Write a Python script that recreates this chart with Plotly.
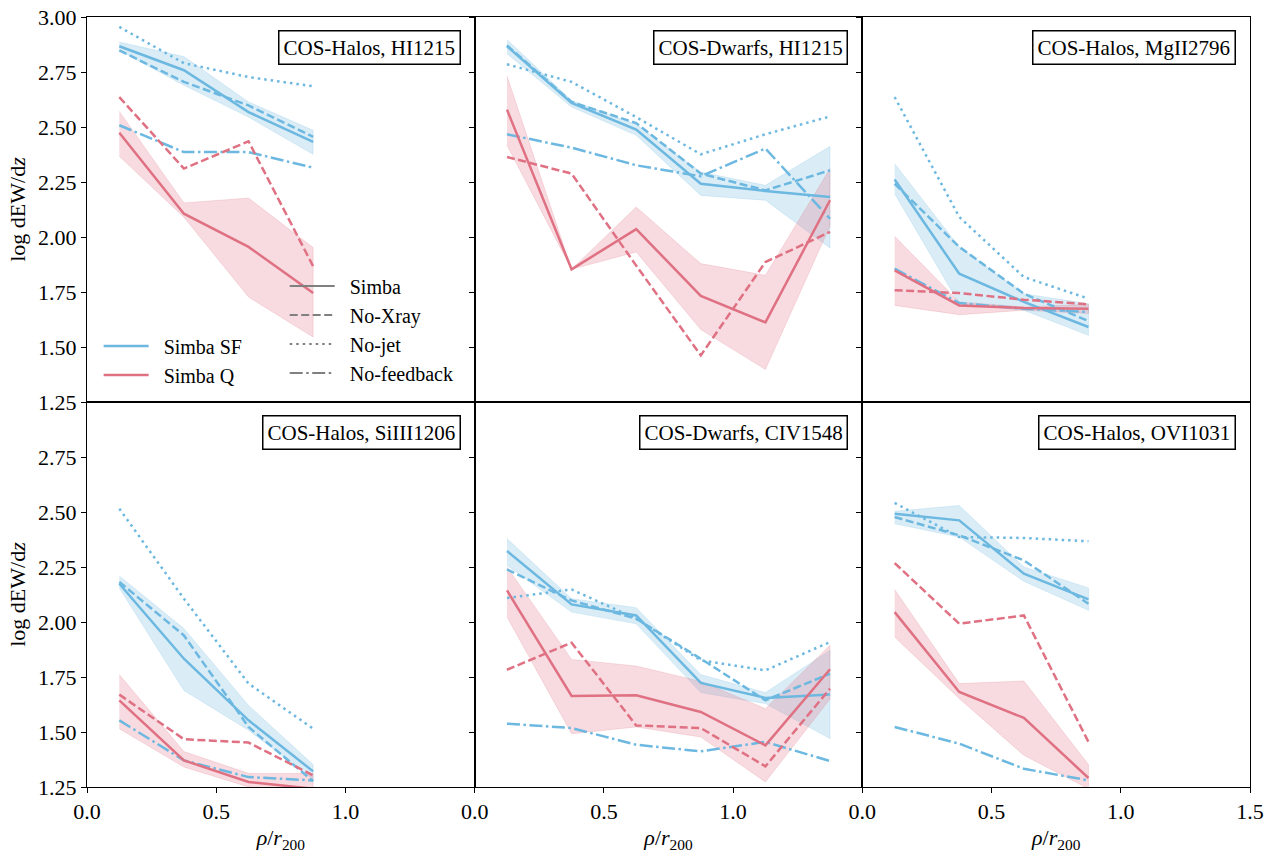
import plotly.graph_objects as go
from plotly.subplots import make_subplots

# ---------------- data ----------------
X4 = [0.125, 0.375, 0.625, 0.875]
X6 = [0.125, 0.375, 0.625, 0.875, 1.125, 1.375]

titles = ["COS-Halos, HI1215", "COS-Dwarfs, HI1215", "COS-Halos, MgII2796",
          "COS-Halos, SiIII1206", "COS-Dwarfs, CIV1548", "COS-Halos, OVI1031"]

# Panel 1: COS-Halos HI1215
p1_sf = [2.867, 2.758, 2.568, 2.432]
p1_sf_hi = [2.886, 2.820, 2.614, 2.485]
p1_sf_lo = [2.848, 2.690, 2.545, 2.376]
p1_sf_nox = [2.848, 2.705, 2.598, 2.455]
p1_sf_nojet = [2.955, 2.790, 2.727, 2.685]
p1_sf_nofb = [2.508, 2.386, 2.386, 2.315]
p1_q = [2.474, 2.106, 1.955, 1.745]
p1_q_hi = [2.571, 2.155, 2.177, 1.952]
p1_q_lo = [2.367, 2.090, 1.727, 1.545]
p1_q_nox = [2.636, 2.311, 2.435, 1.867]

# Panel 2: COS-Dwarfs HI1215
p2_sf = [2.867, 2.609, 2.488, 2.242, 2.209, 2.182]
p2_sf_hi = [2.897, 2.621, 2.512, 2.295, 2.235, 2.412]
p2_sf_lo = [2.833, 2.591, 2.462, 2.189, 2.167, 1.950]
p2_sf_nox = [2.871, 2.614, 2.518, 2.288, 2.212, 2.303]
p2_sf_nojet = [2.785, 2.705, 2.545, 2.376, 2.467, 2.548]
p2_sf_nofb = [2.467, 2.406, 2.326, 2.276, 2.402, 2.083]
p2_q = [2.579, 1.853, 2.036, 1.732, 1.612, 2.167]
p2_q_hi = [2.732, 1.853, 2.136, 1.879, 1.826, 2.311]
p2_q_lo = [2.417, 1.853, 1.932, 1.579, 1.398, 2.050]
p2_q_nox = [2.364, 2.288, 1.870, 1.462, 1.886, 2.023]

# Panel 3: COS-Halos MgII2796
p3_sf = [2.261, 1.833, 1.705, 1.591]
p3_sf_hi = [2.333, 1.955, 1.742, 1.697]
p3_sf_lo = [2.197, 1.697, 1.667, 1.553]
p3_sf_nox = [2.242, 1.955, 1.742, 1.618]
p3_sf_nojet = [2.636, 2.091, 1.818, 1.720]
p3_sf_nofb = [1.856, 1.700, 1.674, 1.659]
p3_q = [1.848, 1.689, 1.677, 1.674]
p3_q_hi = [2.003, 1.705, 1.682, 1.694]
p3_q_lo = [1.689, 1.647, 1.667, 1.652]
p3_q_nox = [1.758, 1.745, 1.715, 1.694]

# Panel 4: COS-Halos SiIII1206
p4_sf = [2.174, 1.833, 1.553, 1.321]
p4_sf_hi = [2.209, 1.970, 1.621, 1.352]
p4_sf_lo = [2.155, 1.689, 1.508, 1.285]
p4_sf_nox = [2.182, 1.939, 1.523, 1.276]
p4_sf_nojet = [2.515, 2.106, 1.720, 1.515]
p4_sf_nofb = [1.553, 1.371, 1.295, 1.280]
p4_q = [1.644, 1.371, 1.273, 1.242]
p4_q_hi = [1.761, 1.411, 1.312, 1.311]
p4_q_lo = [1.515, 1.341, 1.250, 1.227]
p4_q_nox = [1.670, 1.467, 1.452, 1.303]

# Panel 5: COS-Dwarfs CIV1548
p5_sf = [2.323, 2.080, 2.030, 1.723, 1.655, 1.671]
p5_sf_hi = [2.379, 2.106, 2.065, 1.761, 1.679, 1.871]
p5_sf_lo = [2.258, 2.045, 1.992, 1.679, 1.629, 1.470]
p5_sf_nox = [2.239, 2.098, 2.015, 1.833, 1.644, 1.765]
p5_sf_nojet = [2.109, 2.148, 2.015, 1.826, 1.780, 1.909]
p5_sf_nofb = [1.538, 1.518, 1.442, 1.412, 1.455, 1.368]
p5_q = [2.144, 1.664, 1.667, 1.591, 1.439, 1.785]
p5_q_hi = [2.250, 1.830, 1.800, 1.730, 1.606, 1.894]
p5_q_lo = [2.023, 1.492, 1.523, 1.477, 1.273, 1.650]
p5_q_nox = [1.783, 1.906, 1.530, 1.518, 1.344, 1.697]

# Panel 6: COS-Halos OVI1031
p6_sf = [2.492, 2.462, 2.220, 2.103]
p6_sf_hi = [2.503, 2.530, 2.250, 2.155]
p6_sf_lo = [2.447, 2.386, 2.185, 2.053]
p6_sf_nox = [2.477, 2.394, 2.280, 2.083]
p6_sf_nojet = [2.541, 2.386, 2.382, 2.367]
p6_sf_nofb = [1.523, 1.447, 1.333, 1.280]
p6_q = [2.045, 1.682, 1.564, 1.291]
p6_q_hi = [2.148, 1.720, 1.732, 1.352]
p6_q_lo = [1.932, 1.652, 1.394, 1.242]
p6_q_nox = [2.268, 1.992, 2.030, 1.455]

y_ticks_top = [1.25, 1.5, 1.75, 2.0, 2.25, 2.5, 2.75, 3.0]
y_ticks_bottom = [1.25, 1.5, 1.75, 2.0, 2.25, 2.5, 2.75]
x_ticks_short = [0.0, 0.5, 1.0]
x_ticks_full = [0.0, 0.5, 1.0, 1.5]

# ---------------- style ----------------
BLUE = "#6cb8e0"
RED = "#df7183"
BLUE_FILL = "rgba(108,184,224,0.25)"
RED_FILL = "rgba(223,113,131,0.25)"
LW = 2.5
DASH = "8px,3.5px"
DOT = "2.5px,4px"
DASHDOT = "13px,3.5px,2.5px,3.5px"
FONT = "Liberation Serif"
GAP = "\u2002"

panels = [
    (X4, p1_sf, p1_sf_hi, p1_sf_lo, p1_sf_nox, p1_sf_nojet, p1_sf_nofb, p1_q, p1_q_hi, p1_q_lo, p1_q_nox),
    (X6, p2_sf, p2_sf_hi, p2_sf_lo, p2_sf_nox, p2_sf_nojet, p2_sf_nofb, p2_q, p2_q_hi, p2_q_lo, p2_q_nox),
    (X4, p3_sf, p3_sf_hi, p3_sf_lo, p3_sf_nox, p3_sf_nojet, p3_sf_nofb, p3_q, p3_q_hi, p3_q_lo, p3_q_nox),
    (X4, p4_sf, p4_sf_hi, p4_sf_lo, p4_sf_nox, p4_sf_nojet, p4_sf_nofb, p4_q, p4_q_hi, p4_q_lo, p4_q_nox),
    (X6, p5_sf, p5_sf_hi, p5_sf_lo, p5_sf_nox, p5_sf_nojet, p5_sf_nofb, p5_q, p5_q_hi, p5_q_lo, p5_q_nox),
    (X4, p6_sf, p6_sf_hi, p6_sf_lo, p6_sf_nox, p6_sf_nojet, p6_sf_nofb, p6_q, p6_q_hi, p6_q_lo, p6_q_nox),
]

fig = make_subplots(rows=2, cols=3, horizontal_spacing=0, vertical_spacing=0)


def band(x, hi, lo, fill, row, col):
    fig.add_trace(go.Scatter(x=list(x) + list(x)[::-1], y=list(hi) + list(lo)[::-1],
                             fill="toself", fillcolor=fill, mode="lines",
                             line=dict(color=fill, width=0.8), showlegend=False,
                             hoverinfo="skip"), row=row, col=col)


def line(x, y, color, dash, row, col):
    fig.add_trace(go.Scatter(x=x, y=y, mode="lines", line=dict(color=color, width=LW, dash=dash),
                             showlegend=False), row=row, col=col)


for i, p in enumerate(panels):
    row, col = i // 3 + 1, i % 3 + 1
    x, sf, sf_hi, sf_lo, sf_nox, sf_nojet, sf_nofb, q, q_hi, q_lo, q_nox = p
    band(x, sf_hi, sf_lo, BLUE_FILL, row, col)
    band(x, q_hi, q_lo, RED_FILL, row, col)
    line(x, sf, BLUE, "solid", row, col)
    line(x, sf_nox, BLUE, DASH, row, col)
    line(x, sf_nojet, BLUE, DOT, row, col)
    line(x, sf_nofb, BLUE, DASHDOT, row, col)
    line(x, q, RED, "solid", row, col)
    line(x, q_nox, RED, DASH, row, col)

# legend entries (legend 1: colours, legend 2: line styles)
for name, color in [("Simba SF", BLUE), ("Simba Q", RED)]:
    fig.add_trace(go.Scatter(x=[None], y=[None], mode="lines", name=GAP + name,
                             line=dict(color=color, width=LW), legend="legend"), row=1, col=1)
for name, dash in [("Simba", "solid"), ("No-Xray", DASH), ("No-jet", DOT), ("No-feedback", DASHDOT)]:
    fig.add_trace(go.Scatter(x=[None], y=[None], mode="lines", name=GAP + name,
                             line=dict(color="#808080", width=2, dash=dash), legend="legend2"), row=1, col=1)

for i in range(6):
    row, col = i // 3 + 1, i % 3 + 1
    xt = x_ticks_full if col == 3 else x_ticks_short
    fig.update_xaxes(range=[0, 1.5], tickvals=xt, ticktext=[f"{v:.1f}" for v in xt],
                     showticklabels=(row == 2), ticks="outside" if row == 2 else "",
                     ticklen=5, tickcolor="black", showline=True, mirror=True, linecolor="black",
                     linewidth=1, showgrid=False, zeroline=False, automargin=False,
                     ticklabeloverflow="allow",
                     tickfont=dict(family=FONT, size=22, color="black"),
                     row=row, col=col)
    if row == 2:
        fig.update_xaxes(title=dict(text="<i>ρ</i>/<i>r</i><sub>200</sub>",
                                    font=dict(family=FONT, size=22, color="black"), standoff=6),
                         row=row, col=col)
    yt = y_ticks_top if row == 1 else y_ticks_bottom
    fig.update_yaxes(range=[1.25, 3.0], tickvals=yt, ticktext=[f"{v:.2f}" for v in yt],
                     showticklabels=(col == 1), ticks="outside", ticklen=5, tickcolor="black",
                     showline=True, mirror=True, linecolor="black", linewidth=1,
                     showgrid=False, zeroline=False, automargin=False,
                     ticklabeloverflow="allow",
                     tickfont=dict(family=FONT, size=22, color="black"),
                     row=row, col=col)
    if col == 1:
        fig.update_yaxes(title=dict(text="log dEW/d<i>z</i>",
                                    font=dict(family=FONT, size=22, color="black"), standoff=6),
                         row=row, col=col)
    xref = "x domain" if i == 0 else f"x{i+1} domain"
    yref = "y domain" if i == 0 else f"y{i+1} domain"
    fig.add_annotation(text=titles[i], xref=xref, yref=yref, x=1, y=1, xanchor="right",
                       yanchor="top", xshift=-14, yshift=-13, showarrow=False,
                       font=dict(family=FONT, size=21, color="black"), bgcolor="white",
                       bordercolor="black", borderwidth=1.5, borderpad=4)

fig.update_layout(
    width=1274, height=857,
    margin=dict(l=87, r=24, t=17, b=70),
    paper_bgcolor="white", plot_bgcolor="white",
    showlegend=True,
    legend=dict(x=0.010, y=0.598, xanchor="left", yanchor="top", bgcolor="rgba(0,0,0,0)",
                font=dict(family=FONT, size=20, color="black"), tracegroupgap=0, itemwidth=45),
    legend2=dict(x=0.170, y=0.676, xanchor="left", yanchor="top", bgcolor="rgba(0,0,0,0)",
                 font=dict(family=FONT, size=20, color="black"), tracegroupgap=0, itemwidth=45),
)

# remove the browser's default 8px page margin so the figure fills the window exactly
fig.write_html("out.html", config={"displayModeBar": False},
               post_script="document.body.style.margin='0';")
